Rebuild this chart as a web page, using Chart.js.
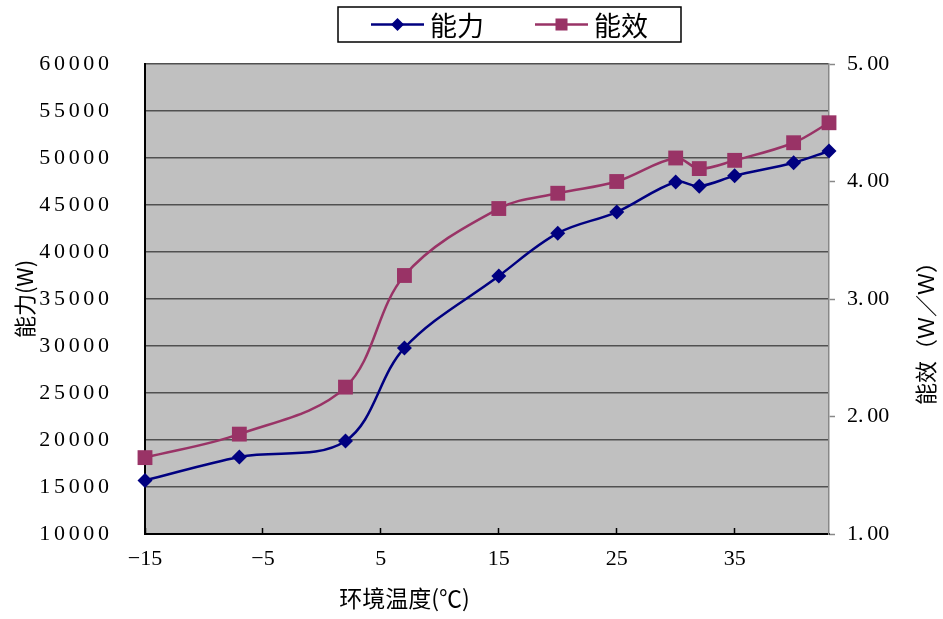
<!DOCTYPE html>
<html>
<head>
<meta charset="utf-8">
<script src="https://cdn.jsdelivr.net/npm/chart.js@4.4.1/dist/chart.umd.min.js"></script>
<style>
  html, body { margin: 0; padding: 0; background: #fff; }
  #wrap { width: 943px; height: 619px; }
</style>
</head>
<body>
<div id="wrap"><canvas id="chart"></canvas></div>
<script>
// values
const temps      = [-15, -7, 2, 7, 15, 20, 25, 30, 32, 35, 40, 43];
const capacity   = [15700, 18200, 19900, 29800, 37450, 42000, 44250, 47450, 47000, 48100, 49500, 50750];
const efficiency = [1.65, 1.85, 2.25, 3.20, 3.77, 3.90, 4.00, 4.20, 4.11, 4.18, 4.33, 4.50];
const xTickValues = [-15, -5, 5, 15, 25, 35];
const seriesNames = ['能力', '能效'];
const xTitle  = '环境温度(℃)';
const yTitle  = '能力(W)';
const y1Title = '能效（Ｗ／Ｗ）';

const SERIF = '"Liberation Serif", "DejaVu Serif", serif';
const CJK = '"Noto Sans CJK SC", "Noto Sans", sans-serif';
const GAP = '\u2006';

function toPoints(ys) {
  return temps.map((t, i) => ({ x: t, y: ys[i] }));
}

const plotBg = {
  id: 'plotBg',
  beforeDraw(chart) {
    const { ctx, chartArea: a } = chart;
    ctx.save();
    ctx.fillStyle = '#fff';
    ctx.fillRect(0, 0, chart.width, chart.height);
    ctx.fillStyle = '#c0c0c0';
    ctx.fillRect(a.left, a.top, a.right - a.left, a.bottom - a.top);
    ctx.restore();
  }
};

// boxed legend: line with marker, then the name
const boxLegend = {
  id: 'boxLegend',
  afterDraw(chart) {
    const ctx = chart.ctx;
    const cx = 509.5, cy = 24.5, lineLen = 53, gap = 6, itemGap = 51, pad = 33;
    ctx.save();
    ctx.font = '27px ' + CJK;
    const items = chart.data.datasets.map(ds => ({ ds, w: lineLen + gap + ctx.measureText(ds.label).width }));
    const total = items.reduce((s, it) => s + it.w, 0) + itemGap * (items.length - 1);
    ctx.fillStyle = '#fff';
    ctx.strokeStyle = '#000';
    ctx.lineWidth = 1.5;
    ctx.fillRect(cx - total / 2 - pad, 7, total + pad * 2, 35);
    ctx.strokeRect(cx - total / 2 - pad, 7, total + pad * 2, 35);
    let x = cx - total / 2;
    items.forEach(({ ds, w }) => {
      ctx.strokeStyle = ds.borderColor;
      ctx.lineWidth = 2.5;
      ctx.beginPath();
      ctx.moveTo(x, cy);
      ctx.lineTo(x + lineLen, cy);
      ctx.stroke();
      ctx.fillStyle = ds.backgroundColor;
      Chart.helpers.drawPoint(ctx, {
        pointStyle: ds.pointStyle,
        radius: ds.pointStyle === 'rect' ? 8.5 : 6.5,
        rotation: 0,
        borderWidth: 0
      }, x + lineLen / 2, cy);
      ctx.fillStyle = '#000';
      ctx.textAlign = 'left';
      ctx.textBaseline = 'middle';
      ctx.fillText(ds.label, x + lineLen + gap, cy + 1);
      x += w + itemGap;
    });
    ctx.restore();
  }
};

// x title sits left of centre and the right title reads bottom-to-top
const sideTitles = {
  id: 'sideTitles',
  afterDraw(chart) {
    const ctx = chart.ctx;
    ctx.save();
    ctx.fillStyle = '#000';
    ctx.textAlign = 'center';
    ctx.textBaseline = 'middle';
    ctx.font = '23px ' + CJK;
    ctx.fillText(xTitle, 404.5, 598);
    ctx.translate(926, 328);
    ctx.rotate(-Math.PI / 2);
    ctx.font = '22px ' + CJK;
    ctx.fillText(y1Title, 0, 0);
    ctx.restore();
  }
};

new Chart(document.getElementById('chart'), {
  type: 'line',
  data: {
    datasets: [
      {
        label: seriesNames[0],
        data: toPoints(capacity),
        yAxisID: 'y',
        borderColor: '#000080',
        backgroundColor: '#000080',
        borderWidth: 2.5,
        pointStyle: 'rectRot',
        pointRadius: 7.5,
        pointBorderWidth: 0,
        tension: 0.35,
        clip: false
      },
      {
        label: seriesNames[1],
        data: toPoints(efficiency),
        yAxisID: 'y1',
        borderColor: '#993366',
        backgroundColor: '#993366',
        borderWidth: 2.5,
        pointStyle: 'rect',
        pointRadius: 10.5,
        pointBorderWidth: 0,
        tension: 0.35,
        clip: false
      }
    ]
  },
  options: {
    responsive: true,
    maintainAspectRatio: false,
    animation: false,
    layout: { padding: { top: 64, left: 0, right: 0, bottom: 0 } },
    plugins: {
      legend: { display: false },
      tooltip: { enabled: false }
    },
    scales: {
      x: {
        type: 'linear',
        position: 'bottom',
        min: -15,
        max: 43,
        afterBuildTicks: s => { s.ticks = xTickValues.map(v => ({ value: v })); },
        afterFit: s => { s.height = 85; },
        ticks: {
          font: { family: SERIF, size: 22 },
          color: '#000',
          padding: 18,
          callback: v => String(v).replace('-', '−')
        },
        grid: { drawOnChartArea: false, drawTicks: true, tickLength: -6, tickColor: '#000', tickWidth: 1.5 },
        border: { color: '#000', width: 2 }
      },
      y: {
        position: 'left',
        min: 10000,
        max: 60000,
        afterFit: s => { s.width = 145; },
        ticks: {
          stepSize: 5000,
          font: { family: SERIF, size: 22 },
          color: '#000',
          padding: 36,
          callback: v => String(v).split('').join(GAP)
        },
        grid: { color: '#505050', lineWidth: 1.5, drawTicks: false },
        border: { color: '#000', width: 2 },
        title: {
          display: true,
          text: yTitle,
          font: { family: CJK, size: 22 },
          color: '#000',
          padding: { top: 11, bottom: 0 }
        }
      },
      y1: {
        position: 'right',
        min: 1,
        max: 5,
        afterFit: s => { s.width = 114; },
        ticks: {
          stepSize: 1,
          font: { family: SERIF, size: 22 },
          color: '#000',
          padding: 12,
          callback: v => v.toFixed(2).replace('.', '.' + GAP)
        },
        grid: { drawOnChartArea: false, drawTicks: true, tickLength: 6, tickColor: '#888', tickWidth: 1.5 },
        border: { color: '#888', width: 1.5 }
      }
    }
  },
  plugins: [plotBg, boxLegend, sideTitles]
});
</script>
</body>
</html>
